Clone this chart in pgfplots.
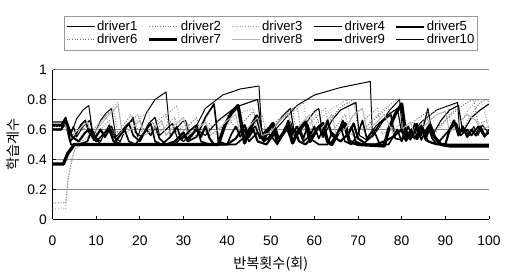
\documentclass[border=0pt]{standalone}
\usepackage{fontspec}
\setmainfont{Liberation Sans}
\newfontfamily\cjk{Noto Sans CJK KR}
\usepackage{pgfplots}
\pgfplotsset{compat=1.18}
\begin{document}
\begin{tikzpicture}
\begin{axis}[
  name=ax,
  width=265pt, height=91pt, scale only axis,
  xmin=0, xmax=100, ymin=0, ymax=1,
  xtick={0,10,...,100}, ytick={0,0.2,0.4,0.6,0.8,1},
  axis x line*=bottom, axis y line*=left,
  axis line style={-, black, line width=0.6pt},
  tick style={black, line width=0.4pt}, major tick length=2pt,
  /pgf/number format/assume math mode=true,
  tick label style={font=\fontsize{8.4}{10}\selectfont},
  xticklabel style={yshift=-6.6pt},
  ymajorgrids, major grid style={black!45, line width=0.5pt},
  xlabel={\cjk 반복횟수(회)}, ylabel={\cjk 학습계수},
  label style={font=\fontsize{8.6}{10}\selectfont},
  xlabel style={yshift=0pt},
  ylabel style={yshift=-2pt},
  legend columns=5,
  legend cell align=left,
  legend style={at={(0.5,1.13)}, anchor=south, draw=black!40, line width=0.3pt,
    font=\fontsize{8}{9.5}\selectfont, inner xsep=1.5pt, inner ysep=2pt, row sep=-0.5pt,
    nodes={inner sep=0.5pt},
    /tikz/every odd column/.append style={column sep=0.5pt},
    /tikz/every even column/.append style={column sep=5.8pt}},
  legend image code/.code={\draw[#1] (0cm,0cm) -- (0.6cm,0cm);},
  every axis plot/.append style={line join=round},
]
% driver1
\addplot[black, line width=0.6pt] coordinates {(0,0.62)(2,0.62)(3,0.68)(4,0.55)(5.5,0.67)(7,0.73)(8.3,0.76)(9.3,0.55)(11,0.66)(12.3,0.71)(13.5,0.74)(14.5,0.55)(16,0.6)(17.3,0.64)(18.5,0.66)(19.5,0.55)(21.5,0.71)(23.5,0.8)(26,0.85)(27,0.55)(28.5,0.61)(29.7,0.65)(30.5,0.66)(31.5,0.54)(35,0.74)(39,0.83)(43,0.87)(47.3,0.89)(48,0.55)(49,0.53)(52,0.63)(56,0.76)(60,0.83)(66,0.88)(72.8,0.92)(73.3,0.55)(75,0.62)(77,0.72)(79.5,0.8)(80.3,0.55)(81,0.52)(84.5,0.65)(88,0.73)(92.8,0.78)(93.3,0.58)(94.5,0.6)(95.5,0.56)(96.5,0.62)(97.5,0.56)(98.5,0.63)(100,0.57)};
% driver2
\addplot[black!50, densely dotted, line width=0.6pt] coordinates {(0,0.11)(3,0.11)(3.7,0.3)(5,0.46)(6,0.5)(8,0.55)(10,0.62)(12.5,0.7)(14,0.73)(15,0.56)(17,0.62)(19.5,0.7)(21,0.6)(22,0.58)(24,0.66)(26,0.7)(27,0.56)(29,0.6)(31,0.64)(32,0.55)(34,0.58)(36,0.64)(37.5,0.58)(39,0.62)(41,0.7)(43,0.74)(44,0.58)(46,0.62)(48,0.7)(49,0.56)(51,0.62)(54,0.72)(56,0.76)(57,0.58)(59,0.64)(61,0.7)(62.5,0.74)(63.5,0.58)(65,0.62)(67,0.7)(68.5,0.56)(70,0.6)(72,0.68)(74.5,0.74)(75.5,0.57)(78,0.6)(80.5,0.65)(81.5,0.55)(84,0.62)(86,0.67)(87,0.56)(89,0.62)(91,0.7)(93,0.75)(94,0.6)(96,0.7)(98,0.78)(99.5,0.8)(100,0.78)};
% driver3
\addplot[black!35, densely dotted, line width=0.6pt] coordinates {(0,0.07)(3,0.07)(3.5,0.25)(4.5,0.42)(5.5,0.48)(7,0.5)(9,0.56)(11,0.65)(13,0.72)(15,0.78)(16,0.58)(18,0.62)(20,0.68)(22,0.72)(23,0.56)(25,0.64)(27,0.72)(28.5,0.76)(29.5,0.58)(31,0.55)(33,0.62)(35,0.66)(36,0.58)(38,0.56)(41,0.66)(44,0.72)(46,0.74)(47,0.57)(50,0.6)(53,0.68)(56,0.74)(57.5,0.78)(58.5,0.58)(61,0.66)(64,0.74)(67.5,0.8)(68.5,0.6)(70,0.55)(73,0.66)(76,0.74)(79.5,0.81)(80.5,0.6)(82,0.55)(85,0.66)(88,0.73)(90.5,0.76)(91.5,0.6)(93,0.62)(95,0.72)(97,0.79)(98,0.8)(99,0.72)(100,0.6)};
% driver4
\addplot[black, line width=0.7pt] coordinates {(0,0.65)(2,0.65)(3,0.66)(4,0.57)(4.8,0.62)(5.5,0.55)(7,0.62)(8.5,0.66)(9.5,0.56)(11,0.52)(12,0.58)(13,0.63)(14,0.55)(15.5,0.52)(17,0.62)(18.5,0.68)(19,0.58)(20.5,0.55)(22,0.64)(23.5,0.68)(24.5,0.56)(26,0.6)(27.5,0.64)(28.5,0.55)(30,0.52)(33,0.6)(35,0.56)(38,0.66)(42,0.75)(47,0.8)(48,0.56)(49.5,0.53)(51,0.62)(53,0.7)(54.5,0.74)(55.5,0.56)(57,0.6)(58.5,0.66)(60,0.72)(61,0.74)(62,0.55)(64,0.66)(66,0.73)(69.5,0.78)(70.3,0.56)(72,0.53)(74,0.62)(77,0.7)(79,0.74)(80,0.58)(82,0.53)(83.5,0.6)(84.5,0.56)(86,0.74)(87,0.56)(89,0.66)(91,0.73)(93,0.76)(94,0.58)(96,0.68)(98,0.73)(100,0.77)};
% driver5
\addplot[black, line width=1pt] coordinates {(0,0.6)(2,0.6)(3,0.64)(4,0.52)(5,0.55)(6.5,0.63)(7.5,0.66)(8.5,0.57)(10,0.52)(12,0.58)(13.5,0.62)(14.5,0.53)(16,0.58)(17.5,0.64)(18.5,0.56)(20,0.52)(21.5,0.6)(22.5,0.56)(23.5,0.62)(24.5,0.54)(26,0.5)(28,0.5)(30,0.56)(31,0.52)(33,0.55)(35,0.68)(37,0.77)(38,0.52)(40,0.5)(42,0.5)(44,0.55)(45.5,0.6)(46.5,0.62)(47.5,0.54)(49,0.6)(50,0.55)(51,0.62)(52,0.53)(53.5,0.6)(54.5,0.65)(55.5,0.55)(56.5,0.62)(57.5,0.54)(58.5,0.63)(59.5,0.53)(61,0.5)(63,0.5)(64,0.58)(65,0.55)(66.5,0.66)(67.5,0.55)(68.5,0.62)(69.5,0.52)(71,0.5)(73,0.55)(75,0.64)(77.5,0.7)(78.5,0.54)(80,0.53)(81,0.6)(82,0.54)(83,0.64)(84,0.55)(85,0.6)(86,0.52)(88,0.5)(90,0.5)(100,0.5)};
% driver6
\addplot[black!55, densely dotted, line width=0.6pt] coordinates {(0,0.62)(2,0.62)(3,0.62)(4,0.53)(6,0.58)(8,0.62)(9,0.54)(11,0.6)(13,0.66)(14,0.56)(16,0.62)(18,0.7)(19.5,0.6)(21,0.58)(23,0.65)(24,0.57)(26,0.62)(28,0.68)(29,0.56)(31,0.62)(33,0.68)(34,0.56)(37,0.63)(40,0.7)(42,0.6)(44,0.66)(46,0.72)(47.5,0.6)(50,0.62)(53,0.7)(55,0.74)(56,0.56)(58,0.64)(60,0.72)(61.5,0.6)(63,0.64)(66,0.75)(69,0.8)(70,0.6)(72,0.62)(75,0.7)(77,0.75)(78,0.6)(80,0.58)(83,0.66)(86,0.72)(87,0.58)(90,0.66)(93,0.74)(95,0.78)(96.5,0.8)(97.5,0.64)(100,0.66)};
% driver7
\addplot[black, line width=2pt] coordinates {(0,0.37)(2.5,0.37)(3.5,0.44)(5,0.5)(8,0.5)(38,0.5)(39.5,0.63)(41,0.71)(42.5,0.76)(44,0.51)(45.3,0.61)(46.8,0.69)(48.3,0.53)(49.5,0.6)(50.5,0.64)(51.5,0.52)(53,0.58)(54,0.62)(55,0.51)(56.5,0.6)(58,0.65)(59,0.52)(60.5,0.6)(62,0.64)(63,0.52)(64,0.5)(65.5,0.58)(67,0.64)(68,0.52)(70,0.5)(76,0.49)(77,0.6)(78.5,0.7)(80,0.77)(81,0.55)(82.5,0.6)(83.5,0.54)(84.5,0.62)(85.5,0.55)(86.5,0.63)(87.5,0.55)(89,0.5)(91,0.49)(100,0.49)};
% driver8
\addplot[black!30, line width=0.6pt] coordinates {(0,0.64)(2,0.64)(3,0.63)(4,0.55)(6,0.6)(8,0.65)(9,0.56)(11,0.63)(13,0.7)(15,0.76)(16,0.57)(18,0.6)(20,0.66)(21,0.56)(23,0.6)(25,0.66)(26,0.56)(28,0.63)(30,0.68)(31,0.56)(33,0.6)(35,0.65)(36,0.56)(38,0.6)(40,0.66)(42,0.7)(43,0.56)(45,0.62)(47,0.68)(48,0.56)(50,0.58)(52,0.66)(54,0.71)(55,0.56)(57,0.64)(59,0.7)(60,0.57)(62,0.62)(64,0.7)(65,0.57)(67,0.6)(69,0.7)(71,0.74)(72,0.6)(74,0.64)(76,0.7)(78,0.58)(80,0.6)(82,0.65)(83,0.56)(85,0.62)(88,0.7)(90,0.72)(91,0.58)(93,0.64)(95,0.7)(97,0.66)(98,0.6)(100,0.62)};
% driver9
\addplot[black, line width=1.3pt] coordinates {(0,0.6)(2,0.6)(3,0.67)(4.5,0.55)(6,0.52)(7.5,0.58)(8.5,0.6)(9.5,0.53)(11,0.6)(12,0.55)(13,0.6)(14,0.52)(16,0.5)(22,0.5)(26,0.5)(28,0.52)(30,0.58)(31,0.53)(33,0.6)(34,0.55)(35,0.62)(36,0.54)(37,0.5)(40,0.5)(42,0.54)(44,0.63)(45,0.55)(46,0.6)(47,0.52)(49,0.5)(51,0.58)(52,0.53)(53.5,0.62)(54.5,0.55)(55.5,0.6)(56.5,0.52)(58,0.5)(60,0.57)(61,0.62)(62,0.55)(63,0.66)(64,0.56)(66,0.52)(68,0.58)(69,0.64)(70,0.54)(72,0.5)(74,0.5)(76,0.52)(78,0.55)(80,0.6)(81,0.53)(82,0.58)(83,0.54)(84.5,0.62)(85.5,0.53)(87,0.51)(89,0.5)(90,0.5)(91,0.6)(92,0.66)(93,0.56)(94,0.62)(95,0.55)(96,0.6)(97,0.56)(98,0.62)(99,0.56)(100,0.58)};
% driver10
\addplot[black, line width=1pt] coordinates {(0,0.63)(2,0.63)(3,0.68)(4.2,0.5)(6,0.5)(8,0.52)(9,0.6)(10,0.54)(11,0.5)(14,0.5)(15.5,0.56)(16.5,0.6)(17.5,0.52)(19,0.5)(21,0.58)(22.5,0.64)(23.5,0.52)(25,0.5)(27,0.55)(28.5,0.62)(29.5,0.53)(31,0.58)(33,0.63)(34,0.52)(36,0.5)(38,0.5)(40,0.5)(41,0.57)(42,0.62)(43,0.55)(44,0.6)(45,0.52)(47,0.58)(48.5,0.52)(50,0.56)(51.5,0.5)(53,0.58)(54,0.66)(55,0.57)(56,0.62)(57.5,0.52)(59,0.56)(60,0.62)(61,0.54)(62,0.6)(63.5,0.5)(65,0.56)(66,0.62)(67,0.52)(68.5,0.5)(70,0.57)(71,0.66)(72,0.54)(73.5,0.6)(75,0.5)(77,0.5)(78,0.55)(79,0.6)(80,0.52)(81.5,0.62)(82.5,0.55)(83.5,0.64)(84.5,0.53)(86,0.62)(87,0.54)(88,0.5)(91,0.6)(92.5,0.64)(93.5,0.56)(95,0.6)(96,0.56)(97.5,0.62)(99,0.55)(100,0.6)};
\legend{driver1,driver2,driver3,driver4,driver5,driver6,driver7,driver8,driver9,driver10}
\draw[black!50, densely dotted, line width=0.5pt] (rel axis cs:0,1) -- (rel axis cs:1,1) -- (rel axis cs:1,0);
\end{axis}
\path[use as bounding box] ([xshift=-31.9pt, yshift=-36.7pt]ax.south west) rectangle ([xshift=6.6pt, yshift=42.2pt]ax.north east);
\end{tikzpicture}
\end{document}
